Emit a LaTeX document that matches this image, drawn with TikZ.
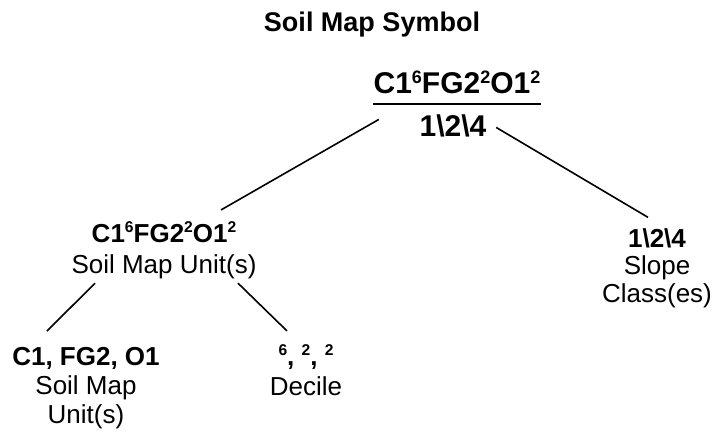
\documentclass[tikz,border=0pt]{standalone}
\usepackage{fontspec}
\setmainfont{Liberation Sans}
\usepackage{tikz}

\newcommand{\sups}[1]{\raisebox{0.36em}{\scalebox{0.6}{#1}}}

\begin{document}
\begin{tikzpicture}[x=1pt, y=1pt, line width=1.6pt,
    txt/.style={inner sep=0pt, anchor=base, align=center, font=\fontsize{26}{29}\selectfont}]
    \useasboundingbox (0,0) rectangle (713,432);

    % 标题
    \node[inner sep=0pt, anchor=base, font=\fontsize{27}{30}\selectfont\bfseries] (title) at (372,400) {Soil Map Symbol};

    % 顶部符号
    \node[inner sep=0pt, anchor=base, font=\fontsize{30}{34}\selectfont\bfseries] (topsym) at (457,338)
        {C1\sups{6}FG2\sups{2}O1\sups{2}};
    \node[inner sep=0pt, anchor=base, font=\fontsize{30}{34}\selectfont\bfseries] (topslope) at (453,295)
        {1\textbackslash 2\textbackslash 4};
    \draw[line width=2.8pt] ([yshift=-10pt]topsym.base west) -- ([yshift=-10pt]topsym.base east);

    % 第二层 (base = 最后一行)
    \node[txt] (unit) at (164,159) {\textbf{C1\sups{6}FG2\sups{2}O1\sups{2}}\\[2pt]Soil Map Unit(s)};
    \node[txt, font=\fontsize{26}{27.5}\selectfont] (slope) at (657,130) {\textbf{1\textbackslash 2\textbackslash 4}\\Slope\\Class(es)};

    % 第三层
    \node[txt] (comps) at (86,9) {\textbf{C1, FG2, O1}\\Soil Map\\Unit(s)};
    \node[txt] (decile) at (306,37) {\textbf{\sups{6}, \sups{2}, \sups{2}}\\[1pt]Decile};

    % 连线
    \draw ([shift={(-40,7)}]topslope.west) -- ([shift={(57,11)}]unit.north);
    \draw ([shift={(9,-1)}]topslope.east) -- ([shift={(-9,10)}]slope.north);
    \draw ([shift={(-69,-4)}]unit.south) -- ([shift={(-39,15)}]comps.north);
    \draw ([shift={(74,-4)}]unit.south) -- ([shift={(-19,13)}]decile.north);
\end{tikzpicture}
\end{document}
